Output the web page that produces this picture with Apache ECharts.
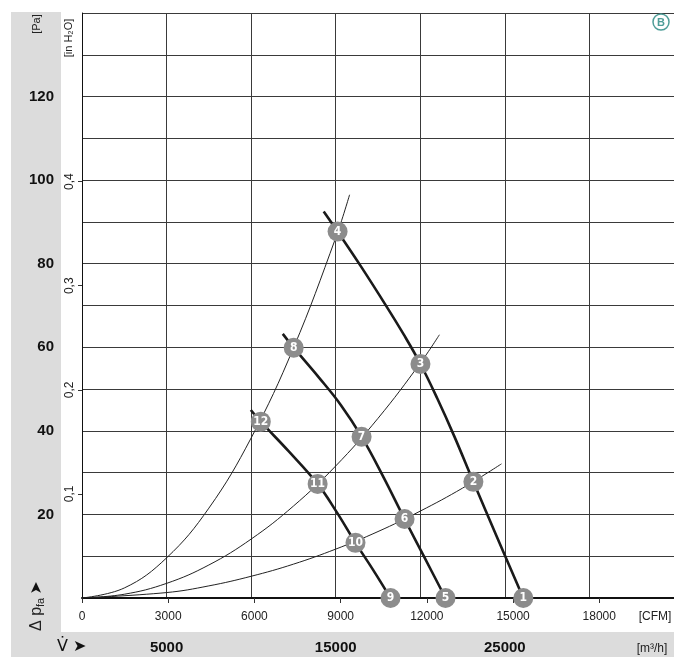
<!DOCTYPE html>
<html>
<head>
<meta charset="utf-8">
<script src="https://cdn.jsdelivr.net/npm/echarts@6/dist/echarts.min.js"></script>
<style>
html,body{margin:0;padding:0;background:#fff;}
#chart{width:674px;height:657px;}
</style>
</head>
<body>
<div id="chart"></div>
<script>
// ---- data (flow in m³/h, pressure in Pa) ----
const cfmTicks = [0, 3000, 6000, 9000, 12000, 15000, 18000];
const m3hLabels = [5000, 15000, 25000];
const paLabels = [20, 40, 60, 80, 100, 120];
const inH2OLabels = [0.1, 0.2, 0.3, 0.4];

// system (resistance) curves
const system1 = [[0,0],[2500,2.4],[5000,9.6],[7500,21.5],[10000,38.3],[12500,59.8],[15000,86.2],[15820,96.5]];
const system2 = [[0,0],[2500,0.9],[5000,3.5],[7500,7.9],[10000,14.1],[12500,22.0],[15000,31.6],[17500,43.0],[20000,56.2],[21130,63.0]];
const system3 = [[0,0],[5000,1.3],[7500,2.9],[10000,5.2],[12500,8.1],[15000,11.7],[17500,15.9],[20000,20.8],[22500,26.3],[24800,32.1]];

// fan curves (three speeds)
const fan1 = [[14290,92.5],[15110,87.7],[16500,79.3],[18000,69.8],[19000,63.2],[20010,56.0],[21000,47.8],[22000,38.8],[23140,27.8],[24500,14.9],[26090,0]];
const fan2 = [[11870,63.2],[12515,59.9],[14000,52.8],[15300,46.2],[16530,38.6],[17800,29.1],[19070,18.9],[20300,9.3],[21490,0]];
const fan3 = [[9980,45.0],[10570,42.2],[12200,35.2],[13930,27.3],[15050,20.6],[16170,13.2],[17200,6.8],[18240,0]];

// operating points: [flow, pressure, number]
const points = [
  [26090,0,1],[23140,27.8,2],[20010,56.0,3],[15110,87.7,4],
  [21490,0,5],[19070,18.9,6],[16530,38.6,7],[12515,59.9,8],
  [18240,0,9],[16170,13.2,10],[13930,27.3,11],[10570,42.2,12]
];

const M3H_PER_CFM = 1.699011;
const PA_PER_INH2O = 249.089;
const X_MAX = 35000, Y_MAX = 140;

const FONT = '"Liberation Sans", Arial, sans-serif';
const NARROW = '"Liberation Sans Narrow", "DejaVu Sans Condensed", "Liberation Sans", sans-serif';
const gridColor = '#3a3a3a';

const chart = echarts.init(document.getElementById('chart'));

function thin(d){ return {type:'line', data:d, smooth:0.4, symbol:'none', silent:true,
  lineStyle:{color:'#222', width:1}, z:3}; }
function thick(d){ return {type:'line', data:d, smooth:0.4, symbol:'none', silent:true,
  lineStyle:{color:'#1a1a1a', width:2.6}, z:4}; }

chart.setOption({
  animation:false,
  textStyle:{fontFamily:FONT},
  grid:{left:82, top:13, right:-1, bottom:59, containLabel:false},
  xAxis:[{
    type:'value', position:'bottom', min:0, max:X_MAX, interval:5000,
    axisLine:{show:true, lineStyle:{color:'#111', width:2}},
    axisTick:{show:false},
    splitLine:{show:true, lineStyle:{color:gridColor, width:1}},
    axisLabel:{customValues:m3hLabels, margin:42, fontSize:15, fontWeight:'bold', color:'#111', fontFamily:FONT,
      formatter:v=>String(v)}
  },{
    type:'value', position:'bottom', min:0, max:X_MAX/M3H_PER_CFM,
    axisLine:{show:false},
    axisTick:{show:true, customValues:cfmTicks, length:5, lineStyle:{color:'#333'}},
    splitLine:{show:false},
    axisLabel:{customValues:cfmTicks, margin:13, fontSize:12, color:'#222', fontFamily:FONT,
      formatter:v=>String(v)}
  }],
  yAxis:[{
    type:'value', position:'left', min:0, max:Y_MAX, interval:10,
    axisLine:{show:true, lineStyle:{color:'#111', width:1}},
    axisTick:{show:false},
    splitLine:{show:true, lineStyle:{color:gridColor, width:1}},
    axisLabel:{customValues:paLabels, margin:28, fontSize:15, fontWeight:'bold', color:'#111', fontFamily:FONT,
      formatter:v=>String(v)}
  },{
    type:'value', position:'left', min:0, max:Y_MAX/PA_PER_INH2O,
    axisLine:{show:false},
    axisTick:{show:true, customValues:inH2OLabels, length:4, lineStyle:{color:'#333'}},
    splitLine:{show:false},
    axisLabel:{customValues:inH2OLabels, margin:6, rotate:90, fontSize:12, color:'#222', fontFamily:FONT,
      formatter:v=>String(v).replace('.', ',')}
  }],
  series:[
    thin(system1), thin(system2), thin(system3),
    thick(fan1), thick(fan2), thick(fan3),
    {type:'scatter', data:points, symbolSize:20, z:6, silent:true,
      itemStyle:{color:'#8c8c8c', opacity:1},
      label:{show:true, position:'inside', formatter:p=>p.data[2], color:'#fff',
        fontWeight:'bold', fontSize:12, fontFamily:NARROW}}
  ],
  graphic:[
    {type:'rect', z:-10, shape:{x:11, y:12, width:50, height:645}, style:{fill:'#dcdcdc'}},
    {type:'rect', z:-10, shape:{x:11, y:632, width:663, height:25}, style:{fill:'#dcdcdc'}},
    {type:'text', x:37, y:24, rotation:Math.PI/2, style:{text:'[Pa]', fontSize:11, fill:'#222',
      fontFamily:FONT, align:'center', verticalAlign:'middle'}},
    {type:'text', x:69, y:38, rotation:Math.PI/2, style:{text:'[in H₂O]', fontSize:11, fill:'#222',
      fontFamily:FONT, align:'center', verticalAlign:'middle'}},
    {type:'text', x:37, y:606, rotation:Math.PI/2, style:{
      text:'{a|Δ p}{s|fa} {r|➤}', align:'center', verticalAlign:'middle', fill:'#222',
      rich:{a:{fontSize:16, fontFamily:FONT, fill:'#222'}, s:{fontSize:11, fontFamily:FONT, fill:'#222', padding:[8,0,0,0]},
        r:{fontSize:16, fontFamily:'DejaVu Sans', fill:'#111'}}}},
    {type:'text', x:57, y:647, style:{text:'V̇ ➤', fontSize:16, fill:'#111', fontFamily:'DejaVu Sans',
      align:'left', verticalAlign:'middle'}},
    {type:'text', x:655, y:617, style:{text:'[CFM]', fontSize:12, fill:'#222', fontFamily:FONT,
      align:'center', verticalAlign:'middle'}},
    {type:'text', x:652, y:649, style:{text:'[m³/h]', fontSize:12, fill:'#222', fontFamily:FONT,
      align:'center', verticalAlign:'middle'}},
    {type:'circle', z:10, shape:{cx:661, cy:22, r:8}, style:{fill:'#fff', stroke:'#4e9d98', lineWidth:1.5}},
    {type:'text', z:11, x:661, y:22.5, style:{text:'B', fontSize:11, fontWeight:'bold', fill:'#4e9d98',
      fontFamily:FONT, align:'center', verticalAlign:'middle'}}
  ]
});
</script>
</body>
</html>
